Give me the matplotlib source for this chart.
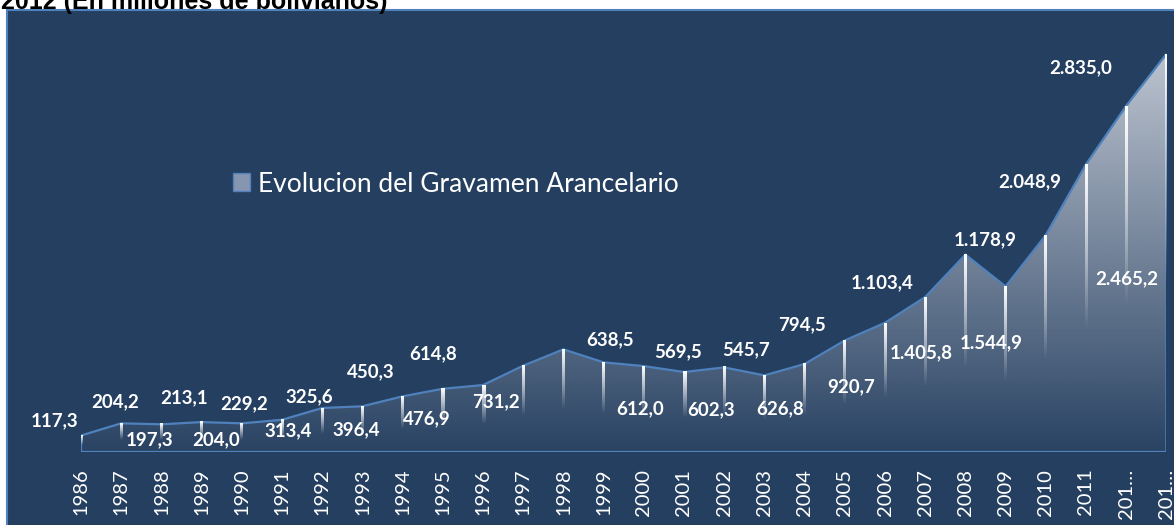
import numpy as np
import matplotlib.pyplot as plt
from matplotlib.patches import Rectangle, Polygon, Patch

# data
years = [str(y) for y in range(1986, 2014)]
tick_labels = years[:-2] + ['201…', '201…']
values = [117.3, 204.2, 197.3, 213.1, 204.0, 229.2, 313.4, 325.6, 396.4, 450.3,
          476.9, 614.8, 731.2, 638.5, 612.0, 569.5, 602.3, 545.7, 626.8, 794.5,
          920.7, 1103.4, 1405.8, 1178.9, 1544.9, 2048.9, 2465.2, 2835.0]
series_name = 'Evolucion del Gravamen Arancelario'

# label placement (pixel offsets from each point, y down)
label_dx = [-26, -6, -12, -18, -26, -38, -34, -53, -46, -72, -56, -90, -67, 6,
            -4, -6, -13, -18, -24, -43, -34, -43, -44, -20, -55, -56, 1, -86]
label_dy = [-15, -22, 15, -24, 16, -16, 23, -10, 33, -17, 34, -12, 52, -23,
            43, -20, 42, -26, 45, -16, 64, -14, 98, -47, 108, 17, 173, 14]

W, H = 1174, 525
navy = '#253f60'
edge = '#4f81bd'
font = 'Lato'


def fmt(v):
    s = f'{v:,.1f}'
    return s.replace(',', 'X').replace('.', ',').replace('X', '.')


fig = plt.figure(figsize=(W / 100, H / 100), dpi=100)
fig.patch.set_facecolor('white')
fig.add_artist(Rectangle((7 / W, -0.02), 1.0, 1 - 10 / H + 0.02, transform=fig.transFigure,
                         facecolor=navy, edgecolor=edge, lw=1.5, zorder=0))

fig.text(0.001, 1 - 9 / H, '2012 (En millones de bolivianos)', fontsize=18,
         fontweight='bold', family='Liberation Sans', va='baseline', ha='left')

ax = fig.add_axes([81 / W, 73 / H, 1085.4 / W, 432 / H])
ax.patch.set_alpha(0)
ymax = 3077
x = np.arange(len(values))

# area with vertical gradient
poly = Polygon(np.column_stack([np.r_[x[0], x, x[-1]], np.r_[0, values, 0]]),
               closed=True, facecolor='none', edgecolor=edge, lw=1.6, zorder=3)
ax.add_patch(poly)
yy = np.linspace(0, ymax, 256)
rgba = np.zeros((256, 1, 4))
rgba[..., 0] = 0.80
rgba[..., 1] = 0.82
rgba[..., 2] = 0.86
rgba[:, 0, 3] = np.clip(0.03 + 0.88 * yy / max(values), 0, 1)
im = ax.imshow(rgba, extent=[0, len(values) - 1, 0, ymax], origin='lower',
               aspect='auto', zorder=1, interpolation='bilinear')
im.set_clip_path(poly)

# fading white drop lines
fade = np.ones((64, 1, 4))
fade[:, 0, 3] = np.linspace(0, 1, 64)
hw = 1.5 / 40.2
for xi, v in zip(x, values):
    ax.imshow(fade, extent=[xi - hw, xi + hw, 0.42 * v, v], origin='lower',
              aspect='auto', zorder=4, interpolation='bilinear')

for xi, v, dx, dy in zip(x, values, label_dx, label_dy):
    ax.annotate(fmt(v), (xi, v), xytext=(dx, -dy), textcoords='offset pixels',
                ha='center', va='center', color='white', fontsize=13.5,
                fontweight='bold', family=font, zorder=5)

ax.set_xlim(0, len(values) - 1)
ax.set_ylim(0, ymax)
ax.set_xticks(x, tick_labels, rotation=90, color='white', fontsize=14.5, family=font)
ax.tick_params(axis='x', length=0, pad=12)
ax.set_yticks([])
for s in ax.spines.values():
    s.set_visible(False)

ax.legend(handles=[Patch(facecolor='#8796b0', edgecolor=edge, lw=1)], labels=[series_name],
          loc='center left', bbox_to_anchor=(233 / W, 1 - 184 / H),
          bbox_transform=fig.transFigure, frameon=False, handlelength=0.65,
          handleheight=0.65, handletextpad=0.3, borderpad=0, borderaxespad=0,
          labelcolor='white', prop={'family': font, 'size': 19})

fig.savefig('out.png', dpi=100)
